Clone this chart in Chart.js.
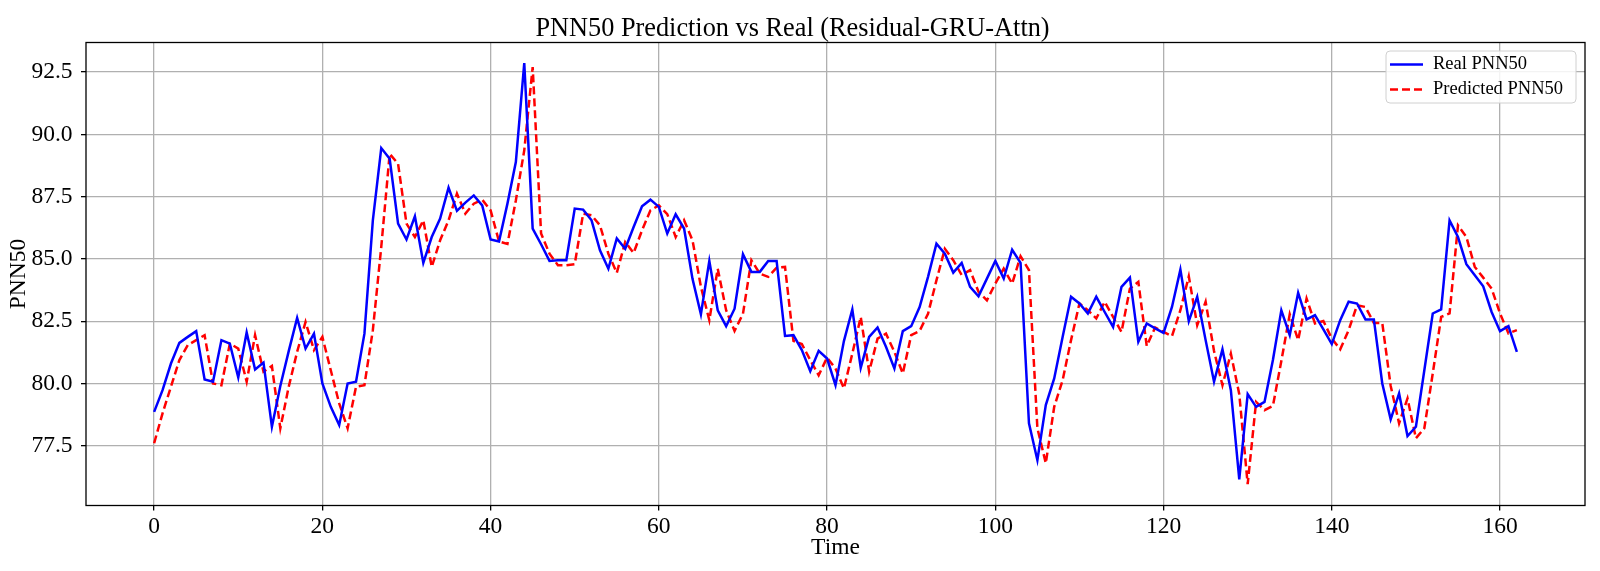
<!DOCTYPE html>
<html>
<head>
<meta charset="utf-8">
<title>PNN50 Prediction vs Real</title>
<script src="https://cdn.jsdelivr.net/npm/chart.js@4.4.1/dist/chart.umd.min.js"></script>
<style>
  html, body { margin: 0; padding: 0; background: #fff; }
  canvas { display: block; }
</style>
</head>
<body>
<canvas id="myChart" width="1600" height="571"></canvas>
<script>
// Data
const time = [];
for (let i = 0; i <= 162; i++) time.push(i);

const realPNN50 = [
    78.86, 79.73, 80.8, 81.63, 81.87, 82.1, 80.16, 80.07, 81.74, 81.6,
    80.24, 82.05, 80.56, 80.84, 78.26, 79.9, 81.3, 82.63, 81.4, 82.0,
    80.0, 79.06, 78.33, 80.0, 80.07, 82.0, 86.55, 89.45, 89.02, 86.42,
    85.78, 86.71, 84.84, 85.88, 86.62, 87.86, 86.93, 87.26, 87.55, 87.15,
    85.78, 85.7, 87.22, 88.89, 92.86, 86.22, 85.59, 84.92, 84.95, 84.95,
    87.02, 86.98, 86.55, 85.35, 84.61, 85.82, 85.41, 86.28, 87.11, 87.38,
    87.09, 86.02, 86.79, 86.22, 84.2, 82.78, 84.92, 82.94, 82.3, 83.0,
    85.19, 84.48, 84.48, 84.92, 84.92, 81.91, 81.94, 81.34, 80.49, 81.31,
    81.0, 79.93, 81.7, 82.97, 80.63, 81.87, 82.25, 81.47, 80.6, 82.1,
    82.3, 83.07, 84.28, 85.61, 85.21, 84.45, 84.84, 83.88, 83.5, 84.21,
    84.92, 84.21, 85.37, 84.84, 78.4, 76.92, 79.13, 80.2, 81.87, 83.48,
    83.21, 82.81, 83.48, 82.87, 82.27, 83.88, 84.25, 81.67, 82.41, 82.21,
    82.03, 83.07, 84.57, 82.5, 83.48, 81.74, 80.07, 81.37, 79.73, 76.15,
    79.57, 79.06, 79.26, 80.94, 82.94, 81.94, 83.64, 82.57, 82.74, 82.17,
    81.58, 82.54, 83.28, 83.21, 82.57, 82.57, 80.0, 78.56, 79.6, 77.89,
    78.26, 80.53, 82.81, 82.97, 86.55, 85.88, 84.79, 84.34, 83.9, 82.87,
    82.1, 82.3, 81.27
];

const predictedPNN50 = [
    77.6, 78.8, 79.87, 80.94, 81.54, 81.74, 81.94, 80.0, 79.93, 81.6,
    81.4, 80.07, 81.94, 80.47, 80.7, 78.2, 79.87, 81.27, 82.47, 81.34,
    81.87, 80.53, 79.2, 78.2, 79.87, 79.93, 82.14, 85.48, 89.22, 88.82,
    86.42, 85.88, 86.55, 84.68, 85.75, 86.55, 87.62, 86.82, 87.22, 87.38,
    86.95, 85.7, 85.6, 87.35, 89.36, 92.7, 86.02, 85.21, 84.75, 84.75,
    84.79, 86.82, 86.75, 86.35, 85.21, 84.44, 85.68, 85.24, 86.15, 86.95,
    87.15, 86.8, 85.88, 86.55, 85.75, 83.88, 82.54, 84.61, 82.94, 82.11,
    82.8, 84.95, 84.41, 84.28, 84.65, 84.68, 81.71, 81.58, 80.94, 80.33,
    81.04, 80.6, 79.8, 81.2, 82.67, 80.47, 81.8, 82.0, 81.27, 80.4,
    81.94, 82.11, 82.8, 84.14, 85.41, 84.95, 84.35, 84.55, 83.68, 83.34,
    84.01, 84.61, 84.01, 85.11, 84.55, 78.2, 76.8, 79.06, 80.13, 81.74,
    83.21, 82.94, 82.61, 83.28, 82.67, 82.07, 83.81, 84.08, 81.5, 82.25,
    82.07, 81.9, 82.94, 84.3, 82.34, 83.28, 81.3, 79.93, 81.2, 79.57,
    75.96, 79.26, 78.93, 79.1, 80.9, 82.78, 81.74, 83.41, 82.41, 82.51,
    81.8, 81.37, 82.14, 83.14, 83.07, 82.43, 82.43, 79.9, 78.4, 79.4,
    77.8, 78.2, 80.4, 82.67, 82.81, 86.35, 85.88, 84.68, 84.25, 83.81,
    82.81, 82.01, 82.14
];

const xTicks = [0, 20, 40, 60, 80, 100, 120, 140, 160];
const yTicks = [77.5, 80.0, 82.5, 85.0, 87.5, 90.0, 92.5];

const FONT = "'Liberation Serif', 'Times New Roman', serif";
const GRID = '#b0b0b0';

// Box round the plot, like matplotlib spines
const frame = {
    id: 'frame',
    afterDatasetsDraw(chart) {
        const a = chart.chartArea;
        const c = chart.ctx;
        c.save();
        c.strokeStyle = '#000';
        c.lineWidth = 1.3;
        c.strokeRect(a.left, a.top, a.right - a.left, a.bottom - a.top);
        c.restore();
    }
};

// Legend in the upper right corner inside the plot
const innerLegend = {
    id: 'innerLegend',
    afterDraw(chart) {
        const c = chart.ctx;
        const a = chart.chartArea;
        const boxW = 190, boxH = 52;
        const x0 = a.right - 9 - boxW, y0 = a.top + 8.5;
        c.save();
        c.beginPath();
        c.roundRect(x0, y0, boxW, boxH, 4);
        c.fillStyle = 'rgba(255,255,255,0.85)';
        c.fill();
        c.strokeStyle = '#d0d0d0';
        c.lineWidth = 1;
        c.stroke();
        c.font = '18.5px ' + FONT;
        c.textBaseline = 'middle';
        chart.data.datasets.forEach((ds, i) => {
            const y = y0 + 13.5 + i * 25;
            c.beginPath();
            c.setLineDash(ds.borderDash || []);
            c.strokeStyle = ds.borderColor;
            c.lineWidth = ds.borderWidth;
            c.moveTo(x0 + 4, y);
            c.lineTo(x0 + 37, y);
            c.stroke();
            c.setLineDash([]);
            c.fillStyle = '#000';
            c.fillText(ds.label, x0 + 47, y);
        });
        c.restore();
    }
};

const ctx = document.getElementById('myChart').getContext('2d');
const myChart = new Chart(ctx, {
    type: 'line',
    data: {
        datasets: [{
            label: 'Real PNN50',
            data: time.map((t, i) => ({ x: t, y: realPNN50[i] })),
            borderColor: '#0000ff',
            borderWidth: 2.5,
            pointRadius: 0,
            tension: 0
        }, {
            label: 'Predicted PNN50',
            data: time.map((t, i) => ({ x: t, y: predictedPNN50[i] })),
            borderColor: '#ff0000',
            borderWidth: 2.5,
            borderDash: [8, 4],
            pointRadius: 0,
            tension: 0
        }]
    },
    options: {
        responsive: false,
        animation: false,
        devicePixelRatio: 1,
        layout: { padding: { left: 0, right: 15, top: 0, bottom: 0 } },
        plugins: {
            legend: { display: false },
            tooltip: { enabled: false },
            title: {
                display: true,
                text: 'PNN50 Prediction vs Real (Residual-GRU-Attn)',
                color: '#000',
                font: { family: FONT, size: 26.3, weight: 'normal', lineHeight: 1.0 },
                padding: { top: 15.5, bottom: 0.7 }
            }
        },
        scales: {
            x: {
                type: 'linear',
                min: -8.1,
                max: 170.1,
                afterBuildTicks(scale) {
                    scale.ticks = xTicks.map(v => ({ value: v }));
                },
                afterFit(scale) { scale.height = 65.5; },
                border: { display: false },
                grid: {
                    color: GRID,
                    lineWidth: 1.3,
                    drawTicks: true,
                    tickLength: 5,
                    tickColor: '#000',
                    tickWidth: 1.3
                },
                ticks: {
                    color: '#000',
                    padding: 2,
                    maxRotation: 0,
                    font: { family: FONT, size: 23.5 },
                    callback: v => String(v)
                },
                title: {
                    display: true,
                    text: 'Time',
                    color: '#000',
                    font: { family: FONT, size: 23.5 },
                    padding: { top: 0, bottom: 9 }
                }
            },
            y: {
                min: 75.1,
                max: 93.69,
                afterBuildTicks(scale) {
                    scale.ticks = yTicks.map(v => ({ value: v }));
                },
                afterFit(scale) { scale.width = 86; },
                border: { display: false },
                grid: {
                    color: GRID,
                    lineWidth: 1.3,
                    drawTicks: true,
                    tickLength: 5,
                    tickColor: '#000',
                    tickWidth: 1.3
                },
                ticks: {
                    color: '#000',
                    padding: 8.5,
                    font: { family: FONT, size: 23.5 },
                    callback: v => v.toFixed(1)
                },
                title: {
                    display: true,
                    text: 'PNN50',
                    color: '#000',
                    font: { family: FONT, size: 23.5 },
                    padding: { top: 5, bottom: 0 }
                }
            }
        }
    },
    plugins: [frame, innerLegend]
});
</script>
</body>
</html>
